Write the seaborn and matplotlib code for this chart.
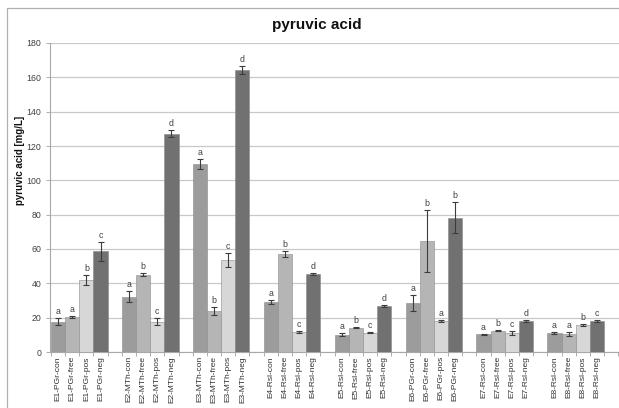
import numpy as np
import pandas as pd
import matplotlib
matplotlib.use("Agg")
import matplotlib.pyplot as plt
from matplotlib.patches import Rectangle
from matplotlib.ticker import MultipleLocator
import seaborn as sns

groups = ["E1-PGr", "E2-MTh", "E3-MTh", "E4-Rsl", "E5-Rsl", "E6-PGr", "E7-Rsl", "E8-Rsl"]
treatments = ["con", "free", "pos", "neg"]

con = [17.7, 32.2, 109.6, 29.0, 10.1, 28.6, 10.2, 11.0]
free = [20.2, 45.0, 23.9, 57.1, 14.2, 64.6, 12.5, 10.4]
pos = [42.0, 17.7, 53.6, 11.5, 11.3, 18.1, 11.0, 15.8]
neg = [58.7, 127.1, 164.4, 45.5, 26.8, 78.3, 18.0, 18.0]

con_err = [1.9, 3.3, 3.0, 1.2, 0.8, 4.5, 0.3, 0.8]
free_err = [0.5, 0.8, 2.3, 1.5, 0.5, 18.2, 0.4, 1.2]
pos_err = [2.9, 2.1, 3.8, 0.5, 0.5, 0.6, 1.0, 0.6]
neg_err = [5.6, 2.1, 2.4, 0.5, 0.5, 9.0, 0.6, 0.6]

con_let = ["a", "a", "a", "a", "a", "a", "a", "a"]
free_let = ["a", "b", "b", "b", "b", "b", "b", "a"]
pos_let = ["b", "c", "c", "c", "c", "a", "c", "b"]
neg_let = ["c", "d", "d", "d", "d", "b", "d", "c"]

colors = {"con": "#9c9c9c", "free": "#b5b5b5", "pos": "#d7d7d7", "neg": "#717171"}

vals = {"con": con, "free": free, "pos": pos, "neg": neg}
errs = {"con": con_err, "free": free_err, "pos": pos_err, "neg": neg_err}
lets = {"con": con_let, "free": free_let, "pos": pos_let, "neg": neg_let}

rows = []
for gi, g in enumerate(groups):
    for ti, t in enumerate(treatments):
        rows.append({
            "pos": gi * (len(treatments) + 1) + ti,
            "label": f"{g}-{t}",
            "treatment": t,
            "value": vals[t][gi],
            "err": errs[t][gi],
            "letter": lets[t][gi],
        })
df = pd.DataFrame(rows)

sns.set_theme(style="white")
plt.rcParams["font.family"] = ["Liberation Sans", "DejaVu Sans"]

fig = plt.figure(figsize=(6.19, 4.08), dpi=100)
ax = fig.add_axes([49.5 / 619, 1 - 352 / 408, 569.5 / 619, 309 / 408])

sns.barplot(data=df, x="pos", y="value", hue="treatment", palette=colors,
            native_scale=True, dodge=False, width=1.0, errorbar=None,
            legend=False, ax=ax, linewidth=0.4, edgecolor="#8a8a8a", zorder=3)

ax.errorbar(df["pos"], df["value"], yerr=df["err"], fmt="none",
            ecolor="#3c3c3c", elinewidth=0.8, capsize=2.0, capthick=0.8, zorder=4)

for _, r in df.iterrows():
    ax.annotate(r["letter"], (r["pos"], r["value"] + r["err"]),
                xytext=(0, 1.5), textcoords="offset points",
                ha="center", va="bottom", fontsize=6.3, color="#404040")

ax.set_xlim(-0.6, df["pos"].max() + 1.55)
ax.set_ylim(0, 180)
ax.yaxis.set_major_locator(MultipleLocator(20))
ax.grid(axis="y", color="#c9c9c9", linewidth=0.9, zorder=0)
ax.set_axisbelow(True)

ax.set_xticks(df["pos"])
ax.set_xticklabels(df["label"], rotation=90, fontsize=6.0, color="#303030")
ax.set_xticks(np.arange(-0.5, df["pos"].max() + 1.6, 1), minor=True)
ax.tick_params(axis="x", which="major", length=0, pad=3)
ax.tick_params(axis="x", which="minor", length=3, color="#a0a0a0", width=0.6, bottom=True)
ax.tick_params(axis="y", length=3, color="#a0a0a0", width=0.6, left=True,
               labelsize=6.3, labelcolor="#404040", pad=3)

for s in ["top", "right"]:
    ax.spines[s].set_visible(False)
for s in ["left", "bottom"]:
    ax.spines[s].set_color("#a8a8a8")
    ax.spines[s].set_linewidth(0.8)

ax.set_xlabel("")
ax.set_ylabel("pyruvic acid [mg/L]", fontsize=7.0, fontweight="bold", color="#111111")
ax.yaxis.set_label_coords(-0.043, 0.62)

fig.text(317 / 619, 1 - 25 / 408, "pyruvic acid", ha="center", va="center",
         fontsize=11, fontweight="bold", color="#111111")

fig.patches.append(Rectangle((7 / 619, -0.1), 1.2, 1.1 - 8 / 408, transform=fig.transFigure,
                             fill=False, edgecolor="#b0b0b0", linewidth=0.9))

fig.savefig("out.png", dpi=100)
